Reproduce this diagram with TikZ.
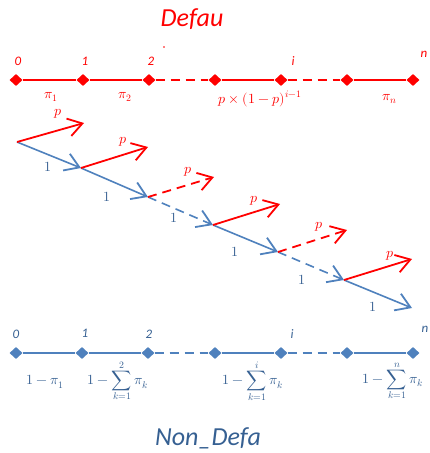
\documentclass[tikz,border=0pt]{standalone}
\usepackage{fontspec}
\usepackage{unicode-math}
\setmainfont{Carlito}
\setmathfont{Latin Modern Math}
\usetikzlibrary{shapes.geometric,arrows.meta}
\definecolor{dred}{RGB}{255,0,0}
\definecolor{lblue}{RGB}{79,129,189}
\definecolor{tblue}{RGB}{54,96,146}
\tikzset{
  dia/.style={diamond,fill=#1,inner sep=0pt,minimum width=13pt,minimum height=12pt,aspect=1},
  seg/.style={line width=1.8pt,#1},
  dsh/.style={line width=1.8pt,#1,dash pattern=on 9pt off 6pt},
  idx/.style={font=\fontsize{13}{15}\selectfont\itshape,inner sep=0pt},
  mlab/.style={font=\fontsize{14}{16}\selectfont,inner sep=0pt},
  title/.style={font=\fontsize{26}{30}\selectfont\itshape,inner sep=0pt},
  barb/.style={-{Straight Barb[length=14pt,width=18pt,line width=1.8pt]}},
  redarr/.style={barb,line width=1.8pt,dred},
  bluearr/.style={barb,line width=1.6pt,lblue},
}
\begin{document}
\begin{tikzpicture}[x=1pt,y=-1pt]
\useasboundingbox (0,0) rectangle (429,453);
% title
\node[title,text=dred] (tdef) at (192,19) {Defau};
\fill[dred] (164,47) circle (0.8pt);
% top line
\foreach \i/\x in {0/16,1/83,2/149,3/215,4/281,5/347,6/413}
  \node[dia=dred] (d\i) at (\x,80) {};
\draw[seg=dred] (d0) -- (d1);
\draw[seg=dred] (d1) -- (d2);
\draw[dsh=dred] (d2) -- (d3);
\draw[seg=dred] (d3) -- (d4);
\draw[dsh=dred] (d4) -- (d5);
\draw[seg=dred] (d5) -- (d6);
\node[idx,text=dred] (t0) at (18,61) {0};
\node[idx,text=dred] (t1) at (85,61) {1};
\node[idx,text=dred] (t2) at (151,61) {2};
\node[idx,text=dred] (ti) at (293,61) {i};
\node[idx,text=dred] (tn) at (424,54) {n};
\node[mlab,text=dred] (p1) at (51,97) {$\pi_1$};
\node[mlab,text=dred] (p2) at (125,97) {$\pi_2$};
\node[mlab,text=dred] (pi) at (260,99) {$p\times(1-p)^{i-1}$};
\node[mlab,text=dred] (pn) at (390,99) {$\pi_n$};
% chain
\coordinate (c0) at (17,142);
\coordinate (c1) at (81,168);
\coordinate (c2) at (148,197);
\coordinate (c3) at (213,225);
\coordinate (c4) at (278,252);
\coordinate (c5) at (344,280);
\coordinate (c6) at (412,308);
\coordinate (r0) at (84,123);
\coordinate (r1) at (148,147);
\coordinate (r2) at (214,177);
\coordinate (r3) at (280,204);
\coordinate (r4) at (347,230);
\coordinate (r5) at (412,259);
\draw[bluearr] (c0) -- (c1);
\draw[bluearr] (c1) -- (c2);
\draw[bluearr,dash pattern=on 9pt off 6pt] (c2) -- (c3);
\draw[bluearr] (c3) -- (c4);
\draw[bluearr,dash pattern=on 9pt off 6pt] (c4) -- (c5);
\draw[bluearr] (c5) -- (c6);
\draw[redarr] (c0) -- (r0);
\draw[redarr] (c1) -- (r1);
\draw[redarr,dash pattern=on 9pt off 6pt] (c2) -- (r2);
\draw[redarr] (c3) -- (r3);
\draw[redarr,dash pattern=on 9pt off 6pt] (c4) -- (r4);
\draw[redarr] (c5) -- (r5);
\foreach \n/\x/\y in {a/58/114,b/123/142,c/188/172,d/254/201,e/319/227,f/390/256}
  \node[mlab,text=dred] (pp\n) at (\x,\y) {$p$};
\foreach \n/\x/\y in {a/48/167,b/107/197,c/174/218,d/235/252,e/302/280,f/373/307}
  \node[mlab,text=tblue] (one\n) at (\x,\y) {$1$};
% bottom line
\foreach \i/\x in {0/16,1/82,2/148,3/215,4/281,5/347,6/413}
  \node[dia=lblue] (b\i) at (\x,353) {};
\draw[seg=lblue] (b0) -- (b1);
\draw[seg=lblue] (b1) -- (b2);
\draw[dsh=lblue] (b2) -- (b3);
\draw[seg=lblue] (b3) -- (b4);
\draw[dsh=lblue] (b4) -- (b5);
\draw[seg=lblue] (b5) -- (b6);
\node[idx,text=tblue] (s0) at (16,334) {0};
\node[idx,text=tblue] (s1) at (85,333) {1};
\node[idx,text=tblue] (s2) at (149,334) {2};
\node[idx,text=tblue] (si) at (292,334) {i};
\node[idx,text=tblue] (sn) at (425,329) {n};
\node[mlab,text=tblue] (q1) at (45,382) {$1-\pi_1$};
\node[mlab,text=tblue] (q2) at (118,381) {$\displaystyle 1-\sum_{k=1}^{2}\pi_k$};
\node[mlab,text=tblue] (qi) at (253,381) {$\displaystyle 1-\sum_{k=1}^{i}\pi_k$};
\node[mlab,text=tblue] (qn) at (393,381) {$\displaystyle 1-\sum_{k=1}^{n}\pi_k$};
\node[title,text=tblue] (tnon) at (208,438) {Non\_Defa};
\end{tikzpicture}
\end{document}
